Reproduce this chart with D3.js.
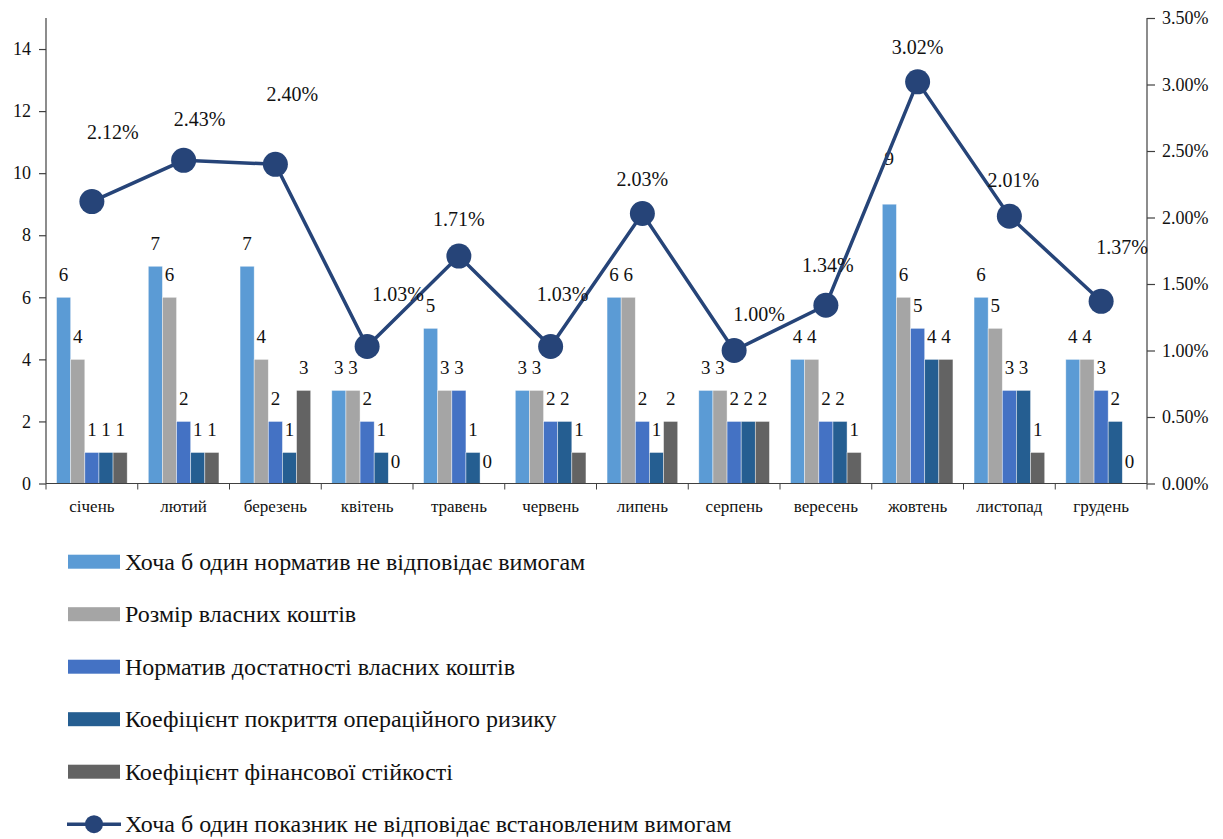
<!DOCTYPE html>
<html><head><meta charset="utf-8">
<script src="https://cdn.jsdelivr.net/npm/d3@7"></script>
</head>
<body style="margin:0;background:#fff"><svg id="c" width="1223" height="839" style="display:block"></svg>
<script>
const months = ["січень","лютий","березень","квітень","травень","червень","липень","серпень","вересень","жовтень","листопад","грудень"];
const seriesNames = ["Хоча б один норматив не відповідає вимогам","Розмір власних коштів","Норматив достатності власних коштів","Коефіцієнт покриття операційного ризику","Коефіцієнт фінансової стійкості"];
const anyNorm     = [6,7,7,3,5,3,6,3,4,9,6,4];
const ownFunds    = [4,6,4,3,3,3,6,3,4,6,5,4];
const adequacy    = [1,2,2,2,3,2,2,2,2,5,3,3];
const opRisk      = [1,1,1,1,1,2,1,2,2,4,3,2];
const stability   = [1,1,3,0,0,1,2,2,1,4,1,0];
const lineName = "Хоча б один показник не відповідає встановленим вимогам";
const sharePct = [2.12,2.43,2.40,1.03,1.71,1.03,2.03,1.00,1.34,3.02,2.01,1.37];
const leftTicks = [0,2,4,6,8,10,12,14];
const rightTicks = [0,0.5,1,1.5,2,2.5,3,3.5];

// layout / style (not data)
const FONT = "'Liberation Serif', Tinos, 'Times New Roman', serif";
const colors = ["#5B9BD5","#A5A5A5","#4472C4","#255E91","#636363"];
const lineColor = "#264478";
const pctNudge = [[21,-70],[16,-41],[17,-70],[31,-53],[0,-37],[12,-53],[0,-35],[25,-37],[2,-40],[0,-35],[4,-36],[21,-54]];
const firstLabelLift = [0,0,0,0,0,0,0,0,0,23,0,0];

const seriesVals = [anyNorm, ownFunds, adequacy, opRisk, stability];
const svg = d3.select("#c");
const L = 46, R = 1147, T = 18, B = 483.5;
const serif = sel => sel.attr("font-family", FONT).style("font-family", FONT, "important");

const x = d3.scaleBand().domain(months).range([L, R]).paddingInner(0.23).paddingOuter(0.115);
const xOuter = d3.scaleBand().domain(months).range([L, R]);
const xs = d3.scaleBand().domain(d3.range(5)).range([0, x.bandwidth()]);
const y = d3.scaleLinear().domain([0, 15]).range([B, T]);
const y2 = d3.scaleLinear().domain([0, 3.5]).range([B, T]);

// bars
seriesVals.forEach((vals, si) => {
  svg.append("g").selectAll("rect").data(vals).join("rect")
    .attr("x", (d,i) => x(months[i]) + xs(si))
    .attr("y", d => y(d))
    .attr("width", xs.bandwidth())
    .attr("height", d => B - y(d))
    .attr("fill", colors[si])
    .attr("stroke", "rgba(255,255,255,0.6)").attr("stroke-width", 0.7);
});
seriesVals.forEach((vals, si) => {
  svg.selectAll(".bl" + si).data(vals).join("text").attr("class", "bl" + si)
    .attr("x", (d,i) => x(months[i]) + xs(si) + xs.bandwidth()/2)
    .attr("y", (d,i) => y(d) - 16 - (si === 0 ? firstLabelLift[i] : 0))
    .attr("text-anchor", "middle")
    .attr("font-size", 19).attr("fill", "#111")
    .call(serif)
    .text(d => d);
});

// axes
const axisColor = "#404040";
const gl = svg.append("g").attr("transform", `translate(${L},0)`)
  .call(d3.axisLeft(y).tickValues(leftTicks).tickSize(7).tickPadding(8).tickFormat(d3.format("d")));
gl.select(".domain").attr("d", `M0,${T}V${B}`);
const gr = svg.append("g").attr("transform", `translate(${R},0)`)
  .call(d3.axisRight(y2).tickValues(rightTicks).tickSize(8).tickPadding(7).tickFormat(d => d3.format(".2f")(d) + "%"));
gr.select(".domain").attr("d", `M0,${T}V${B}`);
const gb = svg.append("g").attr("transform", `translate(0,${B})`)
  .call(d3.axisBottom(xOuter).tickSize(0).tickPadding(16));
gb.select(".domain").attr("d", `M${L},0H${R}`);
gb.selectAll(".bt").data(d3.range(13)).join("line").attr("class","bt")
  .attr("x1", i => L + i*xOuter.step()).attr("x2", i => L + i*xOuter.step())
  .attr("y1", 0).attr("y2", 6).attr("stroke", axisColor);
[gl, gr, gb].forEach(g => {
  serif(g);
  g.selectAll(".domain, .tick line").attr("stroke", axisColor).attr("stroke-width", 1.2);
  g.selectAll("text").attr("fill", "#111").call(serif);
});
gl.selectAll("text").attr("font-size", 18);
gr.selectAll("text").attr("font-size", 18);
gb.selectAll("text").attr("font-size", 17);

// line
const cx = (d,i) => xOuter(months[i]) + xOuter.bandwidth()/2;
svg.append("path").datum(sharePct)
  .attr("d", d3.line().x(cx).y(d => y2(d)))
  .attr("fill", "none").attr("stroke", lineColor).attr("stroke-width", 3.5);
svg.append("g").selectAll("circle").data(sharePct).join("circle")
  .attr("cx", cx).attr("cy", d => y2(d)).attr("r", 12.5).attr("fill", lineColor);
svg.selectAll(".pl").data(sharePct).join("text").attr("class", "pl")
  .attr("x", (d,i) => cx(d,i) + pctNudge[i][0])
  .attr("y", (d,i) => y2(d) + pctNudge[i][1] + 7)
  .attr("text-anchor", "middle").attr("font-size", 20).attr("fill", "#111")
  .call(serif)
  .text(d => d3.format(".2f")(d) + "%");

// legend
const rowY = i => 561.7 + i*52.5;
seriesNames.forEach((n, i) => {
  svg.append("rect").attr("x", 68).attr("y", rowY(i) - 7).attr("width", 52).attr("height", 14).attr("fill", colors[i]);
  svg.append("text").attr("x", 125).attr("y", rowY(i) + 8).attr("font-size", 24).attr("fill", "#111").call(serif).text(n);
});
svg.append("line").attr("x1", 67).attr("x2", 121).attr("y1", rowY(5)).attr("y2", rowY(5)).attr("stroke", lineColor).attr("stroke-width", 3.5);
svg.append("circle").attr("cx", 94).attr("cy", rowY(5)).attr("r", 9).attr("fill", lineColor);
svg.append("text").attr("x", 125).attr("y", rowY(5) + 8).attr("font-size", 24).attr("fill", "#111").call(serif).text(lineName);
</script></body></html>
